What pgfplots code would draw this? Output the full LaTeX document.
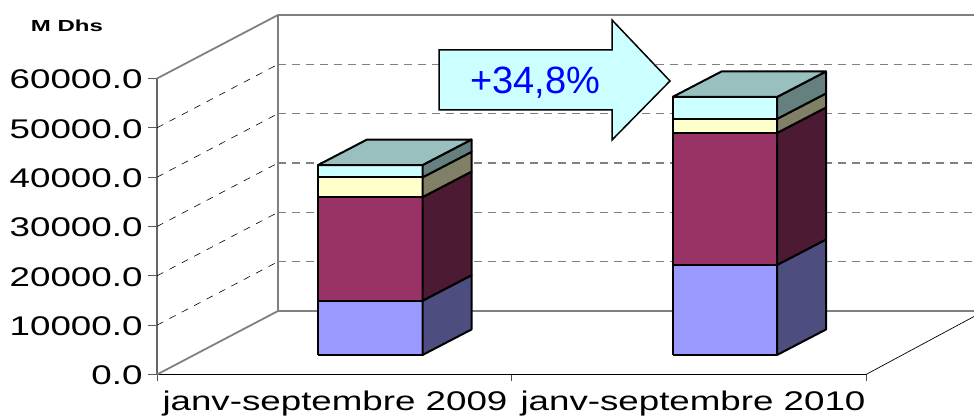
\documentclass[border=0pt]{standalone}
\usepackage{fontspec}
\setmainfont{Liberation Sans}
\newfontfamily\widefont[FakeStretch=1.36]{Liberation Sans}
\newfontfamily\widebold[FakeStretch=1.5]{Liberation Sans}
\usepackage{pgfplots}
\pgfplotsset{compat=1.18}
\definecolor{cA}{HTML}{9999FF}\definecolor{cAs}{HTML}{4D4D80}
\definecolor{cB}{HTML}{993366}\definecolor{cBs}{HTML}{4D1A33}
\definecolor{cC}{HTML}{FFFFCC}\definecolor{cCs}{HTML}{808066}
\definecolor{cD}{HTML}{CCFFFF}\definecolor{cDs}{HTML}{668080}
\definecolor{cT}{HTML}{99BFBF}
\definecolor{wall}{HTML}{808080}
% front-left x, lower and upper cumulative value, front and side colours
\newcommand\seg[5]{%
  \addplot[draw=black,line width=2pt,line join=round,fill=#4] table[row sep=\\,
    x expr=#1+\thisrow{a}*104.5+\thisrow{b}*49,
    y expr=\thisrow{v}+\thisrow{b}*5169+3953]
    {a b v\\ 0 0 #2\\ 1 0 #2\\ 1 0 #3\\ 0 0 #3\\ 0 0 #2\\};
  \addplot[draw=black,line width=2pt,line join=round,fill=#5] table[row sep=\\,
    x expr=#1+\thisrow{a}*104.5+\thisrow{b}*49,
    y expr=\thisrow{v}+\thisrow{b}*5169+3953]
    {a b v\\ 1 0 #2\\ 1 1 #2\\ 1 1 #3\\ 1 0 #3\\ 1 0 #2\\};
}
\newcommand\toplid[2]{%
  \addplot[draw=black,line width=2pt,line join=round,fill=cT] table[row sep=\\,
    x expr=#1+\thisrow{a}*104.5+\thisrow{b}*49,
    y expr=#2+\thisrow{b}*5169+3953]
    {a b\\ 0 0\\ 1 0\\ 1 1\\ 0 1\\ 0 0\\};
}
\begin{document}
\begin{tikzpicture}[x=1pt,y=1pt]
\clip (-157pt,-42.5pt) rectangle (817pt,374.5pt);
\begin{axis}[
  at={(0pt,0pt)},anchor=origin,
  scale only axis,width=709pt,height=296pt,
  xmin=157,xmax=866,ymin=0,ymax=60000,
  clip=false,
  axis lines=left,
  axis line style={-},
  x axis line style={black,line width=0.8pt},
  y axis line style={draw=wall!80!black,line width=1.8pt},
  xtick={335,693},
  xticklabels={janv-septembre 2009,janv-septembre 2010},
  minor xtick={157,511,866},
  minor tick length=7pt,
  major x tick style={draw=none},
  minor x tick style={black!70,line width=0.8pt},
  ytick={0,10000,20000,30000,40000,50000,60000},
  scaled y ticks=false,
  major tick length=9pt,
  tick align=outside,
  y tick style={wall!70!black,line width=0.9pt},
  tick label style={font=\widefont\fontsize{27}{27}\selectfont,text=black},
  y tick label style={xshift=-2pt,yshift=-1pt,/pgf/number format/fixed,/pgf/number format/fixed zerofill,/pgf/number format/precision=1,/pgf/number format/1000 sep={},/pgf/number format/assume math mode=true},
  x tick label style={anchor=base,yshift=-27pt},
]
% floor and walls
\addplot[wall,line width=2.8pt] coordinates {(278,72872) (278,12872)};
\addplot[wall,line width=1.8pt] coordinates {(157,60000) (278,72872) (1000,72872)};
\addplot[wall,line width=1.8pt] coordinates {(157,0) (278,12872) (1000,12872)};
\addplot[black,line width=0.7pt] coordinates {(866,0) (974,11757)};
% gridlines on side wall
\addplot[black,line width=0.6pt,dash pattern=on 7pt off 7pt] coordinates {(157,10000) (278,22872)};
\addplot[black,line width=0.6pt,dash pattern=on 7pt off 7pt] coordinates {(157,20000) (278,32872)};
\addplot[black,line width=0.6pt,dash pattern=on 7pt off 7pt] coordinates {(157,30000) (278,42872)};
\addplot[black,line width=0.6pt,dash pattern=on 7pt off 7pt] coordinates {(157,40000) (278,52872)};
\addplot[black,line width=0.6pt,dash pattern=on 7pt off 7pt] coordinates {(157,50000) (278,62872)};
% gridlines on back wall
\addplot[wall,line width=1.2pt,dash pattern=on 8pt off 6pt] coordinates {(278,22872) (1000,22872)};
\addplot[wall,line width=1.2pt,dash pattern=on 8pt off 6pt] coordinates {(278,32872) (1000,32872)};
\addplot[wall,line width=1.2pt,dash pattern=on 8pt off 6pt] coordinates {(278,42872) (1000,42872)};
\addplot[wall,line width=1.2pt,dash pattern=on 8pt off 6pt] coordinates {(278,52872) (1000,52872)};
\addplot[wall,line width=1.2pt,dash pattern=on 8pt off 6pt] coordinates {(278,62872) (1000,62872)};
% bars: cumulative values
\seg{318}{0}{11000}{cA}{cAs}
\seg{318}{11000}{32000}{cB}{cBs}
\seg{318}{32000}{36000}{cC}{cCs}
\seg{318}{36000}{38500}{cD}{cDs}
\toplid{318}{38500}
\seg{672.5}{0}{18250}{cA}{cAs}
\seg{672.5}{18250}{45000}{cB}{cBs}
\seg{672.5}{45000}{47850}{cC}{cCs}
\seg{672.5}{47850}{52300}{cD}{cDs}
\toplid{672.5}{52300}
\end{axis}
% arrow (coordinates: pixel x-157, 374.5-pixel y)
\draw[black,line width=1.5pt,fill=cD,line join=miter]
  (282pt,324.5pt)--(455pt,324.5pt)--(455pt,354.5pt)--(513pt,293.5pt)--(455pt,234.5pt)--(455pt,264.5pt)--(282pt,264.5pt)--cycle;
\node[text=blue,font=\fontsize{38}{38}\selectfont,anchor=base west,inner sep=0pt] at (313pt,281pt) {+34,8\%};
\node[font=\widebold\bfseries\fontsize{16}{16}\selectfont,anchor=base,inner sep=0pt] at (-90pt,343pt) {M Dhs};
\end{tikzpicture}
\end{document}
